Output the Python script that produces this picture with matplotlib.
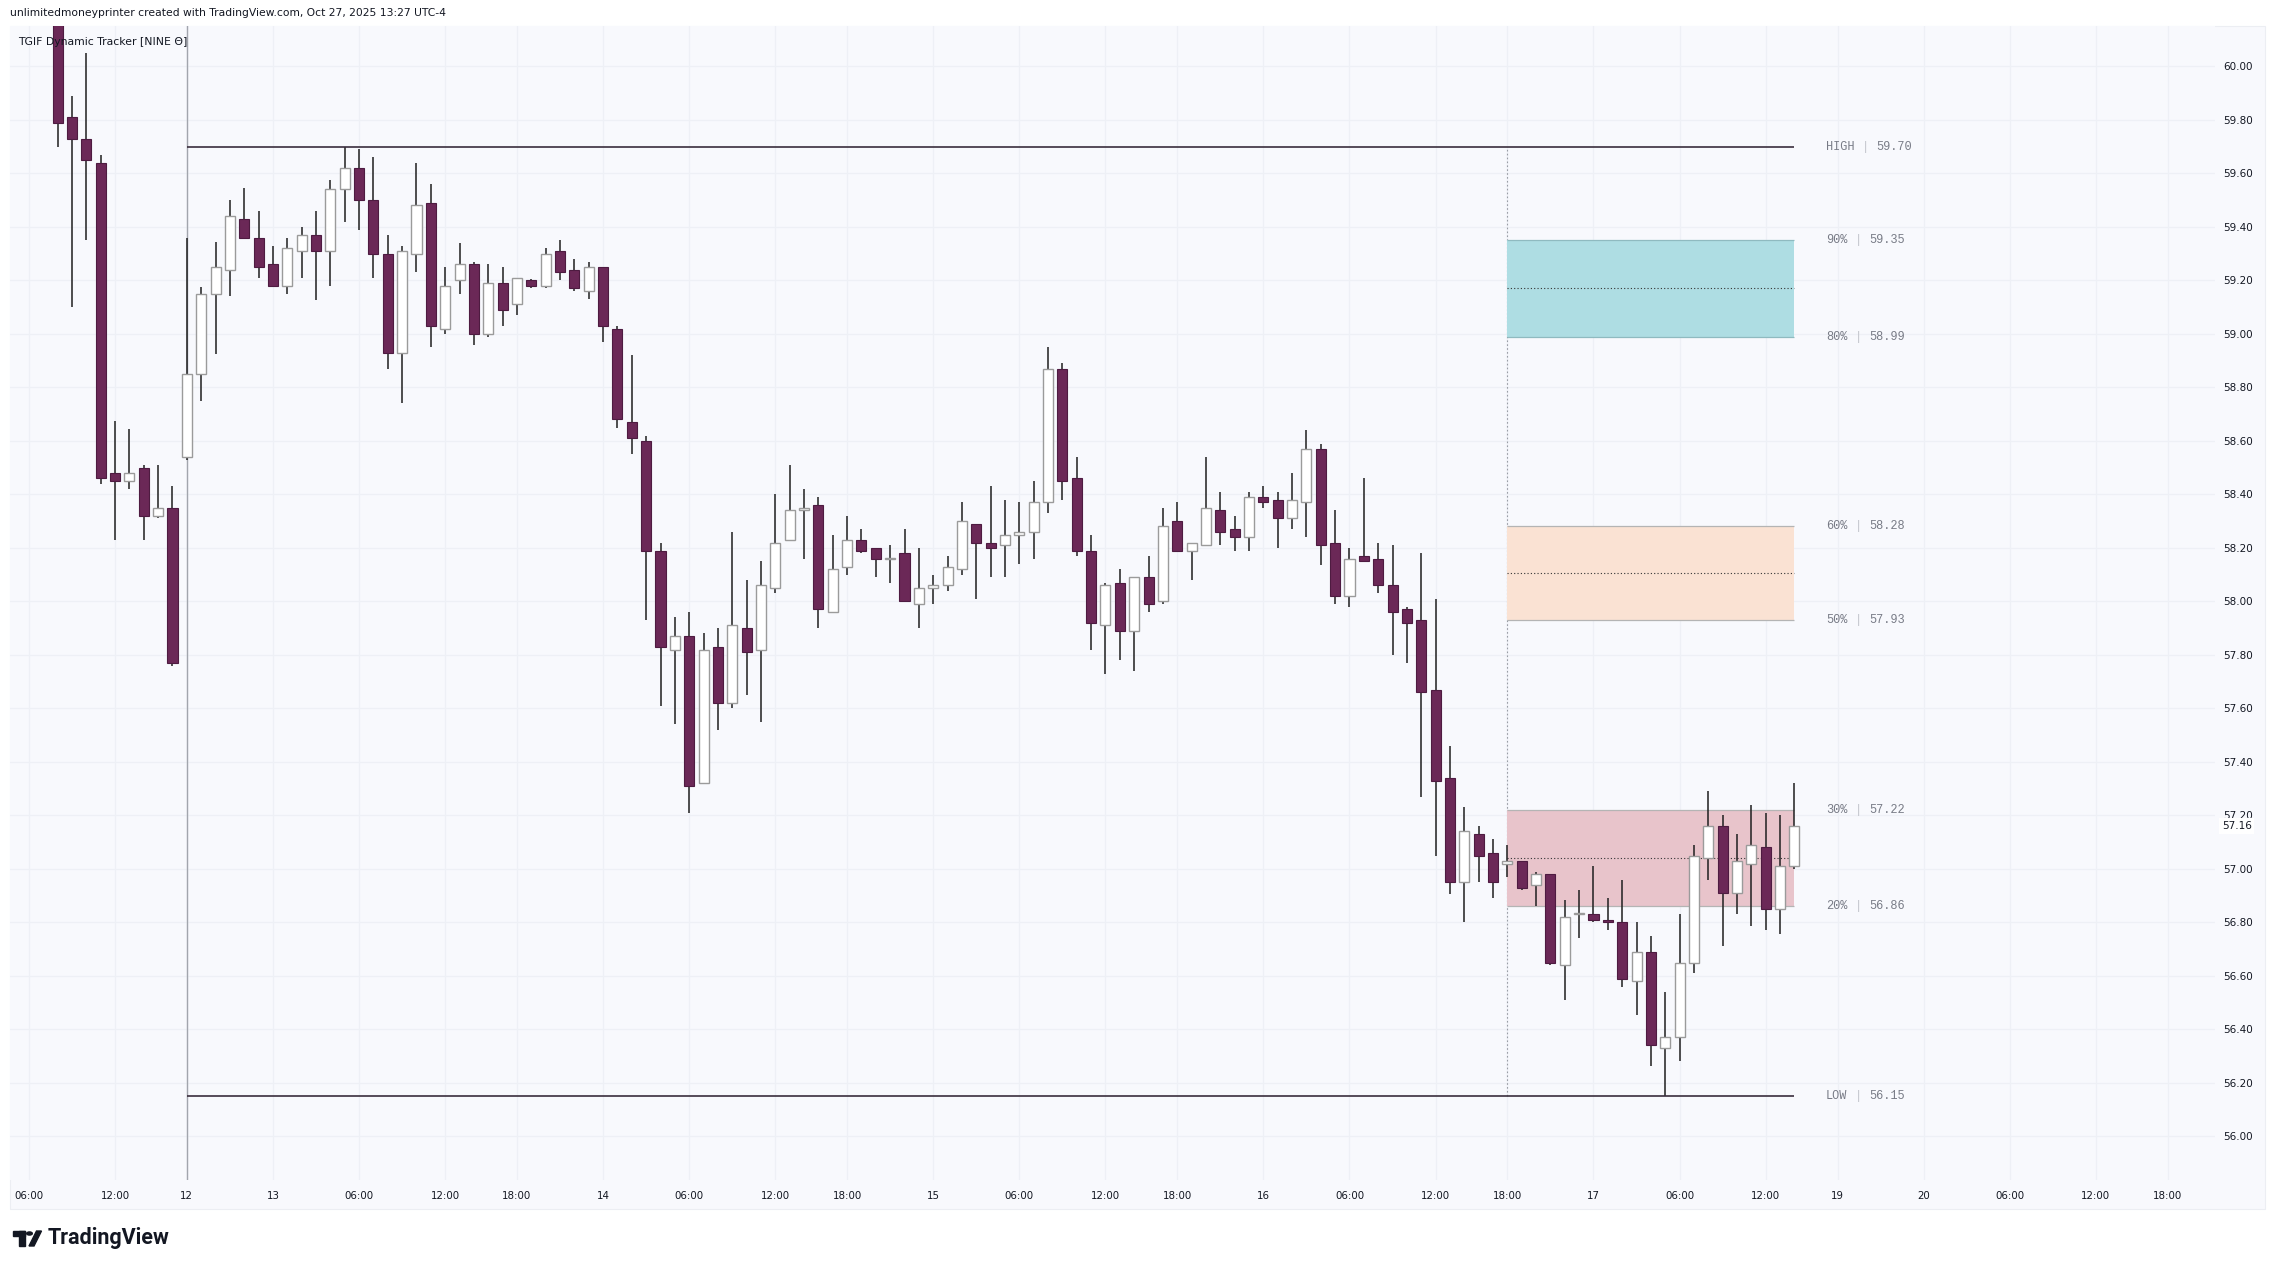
import matplotlib
matplotlib.use("Agg")
import matplotlib.pyplot as plt
import numpy as np
from matplotlib.patches import Rectangle, Polygon, Circle
from matplotlib.transforms import blended_transform_factory, offset_copy

W, H, DPI = 2274, 1269, 100

# hourly bars, index 0 = Fri 06:00 (no gaps for closed hours)
first_bar = 2
opens = [60.40, 59.81, 59.73, 59.64, 58.48, 58.45, 58.50, 58.32, 58.35,
         58.54, 58.85, 59.15, 59.24, 59.43, 59.36, 59.26, 59.18, 59.31, 59.37,
         59.31, 59.54, 59.62, 59.50, 59.30, 58.93, 59.30, 59.49, 59.02, 59.20,
         59.26, 59.00, 59.19, 59.11, 59.20, 59.18, 59.31, 59.24, 59.16, 59.25,
         59.02, 58.67, 58.60, 58.19, 57.82, 57.87, 57.32, 57.83, 57.62, 57.90,
         57.82, 58.05, 58.23, 58.34, 58.36, 57.96, 58.13, 58.23, 58.20, 58.16,
         58.18, 57.99, 58.05, 58.06, 58.12, 58.29, 58.22, 58.21, 58.25, 58.26,
         58.37, 58.87, 58.46, 58.19, 57.91, 58.07, 57.89, 58.09, 58.00, 58.30,
         58.19, 58.21, 58.34, 58.27, 58.24, 58.39, 58.38, 58.31, 58.37, 58.57,
         58.22, 58.02, 58.17, 58.16, 58.06, 57.97, 57.93, 57.67, 57.34, 56.95,
         57.13, 57.06, 57.02, 57.03, 56.94, 56.98, 56.64, 56.83, 56.83, 56.81,
         56.80, 56.58, 56.69, 56.33, 56.37, 56.65, 57.04, 57.16, 56.91, 57.02,
         57.08, 56.85, 57.01]
highs = [60.50, 59.89, 60.05, 59.67, 58.675, 58.645, 58.51, 58.51, 58.43,
         59.36, 59.175, 59.345, 59.50, 59.545, 59.46, 59.33, 59.36, 59.40, 59.46,
         59.575, 59.70, 59.69, 59.66, 59.37, 59.33, 59.64, 59.56, 59.25, 59.34,
         59.27, 59.26, 59.25, 59.21, 59.205, 59.32, 59.35, 59.28, 59.27, 59.25,
         59.03, 58.92, 58.62, 58.22, 57.94, 57.96, 57.88, 57.90, 58.26, 58.08,
         58.15, 58.40, 58.51, 58.42, 58.39, 58.25, 58.32, 58.27, 58.20, 58.21,
         58.27, 58.20, 58.10, 58.17, 58.37, 58.29, 58.43, 58.38, 58.37, 58.45,
         58.95, 58.89, 58.54, 58.25, 58.07, 58.12, 58.09, 58.17, 58.35, 58.37,
         58.22, 58.54, 58.41, 58.32, 58.41, 58.43, 58.41, 58.48, 58.64, 58.59,
         58.34, 58.20, 58.46, 58.22, 58.21, 57.98, 58.18, 58.01, 57.46, 57.23,
         57.16, 57.11, 57.09, 57.03, 56.99, 56.98, 56.885, 56.92, 57.01, 56.89,
         56.96, 56.80, 56.75, 56.54, 56.83, 57.09, 57.29, 57.20, 57.13, 57.24,
         57.21, 57.20, 57.32]
lows = [59.70, 59.10, 59.35, 58.44, 58.23, 58.42, 58.23, 58.31, 57.76,
        58.53, 58.75, 58.925, 59.14, 59.355, 59.21, 59.18, 59.15, 59.21, 59.125,
        59.18, 59.42, 59.39, 59.21, 58.87, 58.74, 59.23, 58.95, 59.00, 59.15,
        58.96, 58.99, 59.03, 59.07, 59.17, 59.17, 59.20, 59.16, 59.13, 58.97,
        58.65, 58.55, 57.93, 57.61, 57.54, 57.21, 57.32, 57.52, 57.60, 57.65,
        57.55, 58.03, 58.23, 58.16, 57.90, 57.96, 58.10, 58.18, 58.09, 58.07,
        58.00, 57.90, 57.99, 58.04, 58.10, 58.01, 58.09, 58.09, 58.14, 58.16,
        58.33, 58.38, 58.17, 57.82, 57.73, 57.78, 57.74, 57.96, 57.99, 58.19,
        58.08, 58.21, 58.21, 58.19, 58.19, 58.35, 58.20, 58.27, 58.24, 58.135,
        57.99, 57.98, 58.15, 58.03, 57.80, 57.77, 57.27, 57.05, 56.905, 56.80,
        56.95, 56.89, 56.97, 56.92, 56.86, 56.64, 56.51, 56.74, 56.80, 56.77,
        56.56, 56.455, 56.265, 56.15, 56.28, 56.61, 56.96, 56.71, 56.83, 56.785,
        56.77, 56.755, 57.00]
closes = [59.79, 59.73, 59.65, 58.46, 58.45, 58.48, 58.32, 58.35, 57.77,
          58.85, 59.15, 59.25, 59.44, 59.36, 59.25, 59.18, 59.32, 59.37, 59.31,
          59.54, 59.62, 59.50, 59.30, 58.93, 59.31, 59.48, 59.03, 59.18, 59.26,
          59.00, 59.19, 59.09, 59.21, 59.18, 59.30, 59.23, 59.17, 59.25, 59.03,
          58.68, 58.61, 58.19, 57.83, 57.87, 57.31, 57.82, 57.62, 57.91, 57.81,
          58.06, 58.22, 58.34, 58.35, 57.97, 58.12, 58.23, 58.19, 58.16, 58.16,
          58.00, 58.05, 58.06, 58.13, 58.30, 58.22, 58.20, 58.25, 58.26, 58.37,
          58.87, 58.45, 58.19, 57.92, 58.06, 57.89, 58.09, 57.99, 58.28, 58.19,
          58.22, 58.35, 58.26, 58.24, 58.39, 58.37, 58.31, 58.38, 58.57, 58.21,
          58.02, 58.16, 58.15, 58.06, 57.96, 57.92, 57.66, 57.33, 56.95, 57.14,
          57.05, 56.95, 57.03, 56.93, 56.98, 56.65, 56.82, 56.83, 56.81, 56.80,
          56.59, 56.69, 56.34, 56.37, 56.65, 57.05, 57.16, 56.91, 57.03, 57.09,
          56.85, 57.01, 57.16]

tick_idx = [0, 6, 11, 17, 23, 29, 34, 40, 46, 52, 57, 63, 69, 75, 80, 86,
            92, 98, 103, 109, 115, 121, 126, 132, 138, 144, 149]
tick_lbl = ["06:00", "12:00", "12", "13", "06:00", "12:00", "18:00", "14",
            "06:00", "12:00", "18:00", "15", "06:00", "12:00", "18:00", "16",
            "06:00", "12:00", "18:00", "17", "06:00", "12:00", "19", "20",
            "06:00", "12:00", "18:00"]
price_ticks = [56.0, 56.2, 56.4, 56.6, 56.8, 57.0, 57.2, 57.4, 57.6, 57.8,
               58.0, 58.2, 58.4, 58.6, 58.8, 59.0, 59.2, 59.4, 59.6, 59.8, 60.0]

week_start = 11
zone_start = 103
level_names = ["HIGH", "90%", "80%", "60%", "50%", "30%", "20%", "LOW"]
level_prices = [59.70, 59.35, 58.99, 58.28, 57.93, 57.22, 56.86, 56.15]
last_price = 57.16

header = "unlimitedmoneyprinter created with TradingView.com, Oct 27, 2025 13:27 UTC-4"
title = "TGIF Dynamic Tracker [NINE \u0398]"

BG = "#f8f9fd"
GRID = "#eef0f6"
BEAR = "#6b2857"
TXT = "#131722"


def fx(px):
    return px / W


def fy(py):
    return 1 - py / H


fig = plt.figure(figsize=(W / DPI, H / DPI), dpi=DPI)
fig.patch.set_facecolor("white")
fig.patches.append(Rectangle((fx(10), fy(1209)), fx(2265) - fx(10), fy(26) - fy(1209),
                             transform=fig.transFigure, facecolor=BG,
                             edgecolor="#eceef3", linewidth=0.8, zorder=-5))

ax = fig.add_axes([fx(10), fy(1180), fx(2215) - fx(10), fy(26) - fy(1180)])
ax.set_facecolor(BG)
for sp in ax.spines.values():
    sp.set_visible(False)
ax.set_xlim(-1.32, 152.3)
ax.set_ylim(55.837, 60.151)

for v in price_ticks:
    ax.axhline(v, color=GRID, linewidth=0.9, zorder=0)
for t in tick_idx:
    ax.axvline(t, color=GRID, linewidth=0.9, zorder=0)

ax.yaxis.tick_right()
ax.set_yticks(price_ticks, [f"{v:.2f}" for v in price_ticks])
ax.tick_params(axis="y", length=0, pad=6, labelsize=7.5, labelcolor=TXT)
ax.set_xticks(tick_idx, tick_lbl)
ax.tick_params(axis="x", length=0, pad=8, labelsize=7.4, labelcolor=TXT)

# candles
o = np.array(opens)
h = np.array(highs)
l = np.array(lows)
c = np.array(closes)
x = np.arange(first_bar, first_bar + len(o))
last_bar = x[-1]
up = c >= o
bottom = np.minimum(o, c)
height = np.maximum(np.abs(c - o), 0.004)

ax.vlines(x, l, h, color="#1f1f1f", linewidth=1.1, zorder=2)
ax.bar(x[up], height[up], bottom=bottom[up], width=0.7, color="white",
       edgecolor="#9b9b9b", linewidth=1.0, zorder=3)
ax.bar(x[~up], height[~up], bottom=bottom[~up], width=0.7, color=BEAR,
       edgecolor="#4e1b41", linewidth=0.8, zorder=3)

# week open line, high/low
hi, lo = level_prices[0], level_prices[-1]
ax.axvline(week_start, color="#a2a5ad", linewidth=1.0, zorder=1)
ax.hlines([hi, lo], week_start, last_bar, color="#3a2e3d", linewidth=1.2, zorder=4)
ax.vlines(zone_start, lo, hi, color="#9a9da5", linewidth=0.8,
          linestyles=(0, (1.5, 2)), zorder=1)

# zones
zones = [(1, 2, "#aedde3", "#8fbac0"), (3, 4, "#fae2d3", "#b4b4b4"),
         (5, 6, "#e8c4cb", "#b4b4b4")]
for top_i, bot_i, fc, ec in zones:
    top, bot = level_prices[top_i], level_prices[bot_i]
    ax.add_patch(Rectangle((zone_start, bot), last_bar - zone_start, top - bot,
                           facecolor=fc, edgecolor="none", zorder=1.5))
    ax.hlines([top, bot], zone_start, last_bar, color=ec, linewidth=0.9, zorder=1.6)
    ax.hlines((top + bot) / 2, zone_start, last_bar, color="#333333", linewidth=0.8,
              linestyles=(0, (1, 2)), zorder=1.7)

# level labels (monospace, lighter separator)
char_w = 0.6 * 8.6
for name, p in zip(level_names, level_prices):
    parts = [(name, 0, "#787b86"), ("|", len(name) + 1, "#c3c5cc"),
             (f"{p:.2f}", len(name) + 3, "#787b86")]
    for s, col, color in parts:
        trans = offset_copy(ax.transData, fig=fig, x=col * char_w, y=0, units="points")
        ax.text(125.2, p, s, transform=trans, family="Liberation Mono", fontsize=8.6,
                color=color, va="center", ha="left", clip_on=False, zorder=5)

# last price tag on the scale
tr = blended_transform_factory(ax.transAxes, ax.transData)
ax.text(1 + 7 / 2205, last_price, f"{last_price:.2f}", transform=tr, fontsize=7.5,
        color=TXT, va="center", ha="left", clip_on=False, zorder=10,
        bbox=dict(boxstyle="square,pad=0.25", facecolor="white", edgecolor="none"))

fig.text(fx(10), fy(13), header, fontsize=7.75, color=TXT, va="center", ha="left")
fig.text(fx(18), fy(42), title, fontsize=7.8, color=TXT, va="center", ha="left")

# footer logo
logo = "#131722"
fig.patches.append(Rectangle((fx(13), fy(1236)), fx(12), 5 / H,
                             transform=fig.transFigure, color=logo))
fig.patches.append(Rectangle((fx(19), fy(1246)), fx(6), 15 / H,
                             transform=fig.transFigure, color=logo))
fig.patches.append(Polygon([(fx(29), fy(1246)), (fx(34), fy(1246)),
                            (fx(41.5), fy(1231)), (fx(36.5), fy(1231))],
                           closed=True, transform=fig.transFigure, color=logo))
fig.patches.append(Circle((fx(29.5), fy(1233.5)), 2.8 / W,
                          transform=fig.transFigure, color=logo))
fig.text(fx(48), fy(1238), "TradingView", family="Roboto", fontweight="bold",
         fontsize=15.5, color=logo, va="center", ha="left")

fig.savefig("out.png", dpi=DPI)
